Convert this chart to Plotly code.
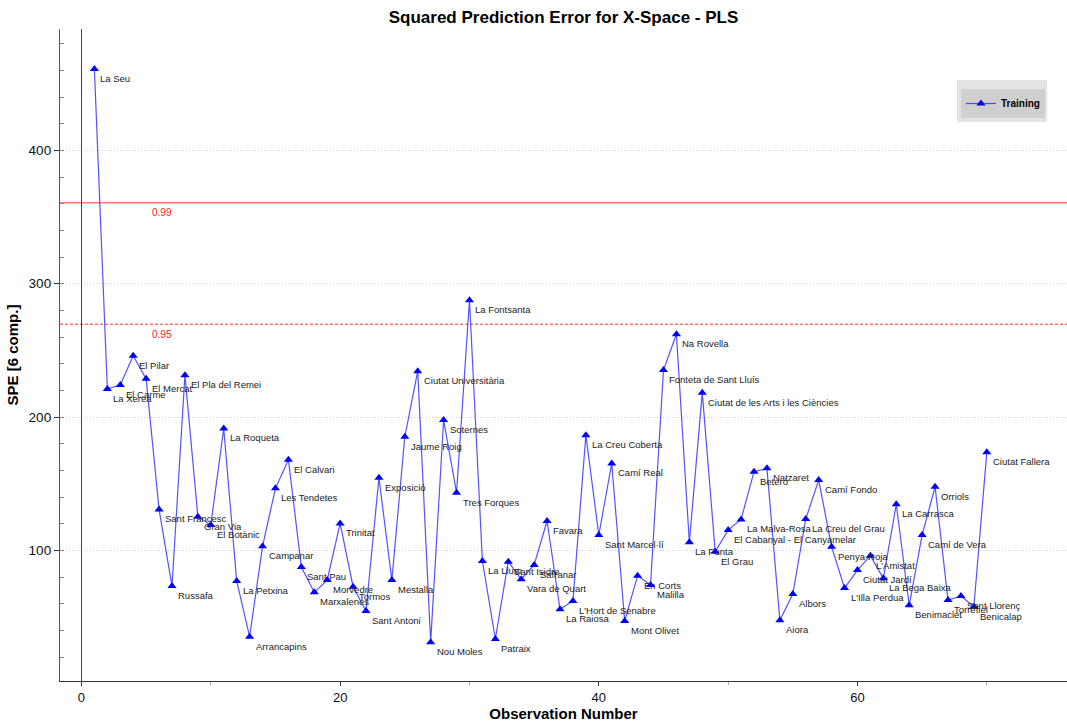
import plotly.graph_objects as go

# Observation names (neighbourhoods), in observation order 1..70
names = [
    "La Seu", "La Xerea", "El Carme", "El Pilar", "El Mercat", "Sant Francesc",
    "Russafa", "El Pla del Remei", "Gran Via", "El Botànic", "La Roqueta",
    "La Petxina", "Arrancapins", "Campanar", "Les Tendetes", "El Calvari",
    "Sant Pau", "Marxalenes", "Morvedre", "Trinitat", "Tormos", "Sant Antoni",
    "Exposició", "Mestalla", "Jaume Roig", "Ciutat Universitària", "Nou Moles",
    "Soternes", "Tres Forques", "La Fontsanta", "La Llum", "Patraix",
    "Sant Isidre", "Vara de Quart", "Safranar", "Favara", "La Raiosa",
    "L'Hort de Senabre", "La Creu Coberta", "Sant Marcel·lí", "Camí Real",
    "Mont Olivet", "En Corts", "Malilla", "Fonteta de Sant Lluís", "Na Rovella",
    "La Punta", "Ciutat de les Arts i les Ciències", "El Grau",
    "El Cabanyal - El Canyamelar", "La Malva-Rosa", "Beteró", "Natzaret",
    "Aiora", "Albors", "La Creu del Grau", "Camí Fondo", "Penya-Roja",
    "L'Illa Perdua", "Ciutat Jardí", "L'Amistat", "La Bega Baixa",
    "La Carrasca", "Benimaclet", "Camí de Vera", "Orriols", "Torrefiel",
    "Sant Llorenç", "Benicalap", "Ciutat Fallera",
]

obs_number = list(range(1, len(names) + 1))

# Squared prediction error per observation (6 components)
spe = [
    461, 221, 224, 246, 228.6, 130.7, 73.2, 231.4, 125.2, 119,
    191.4, 77, 35.2, 103, 146.5, 168, 87.5, 68.5, 77.7, 120.2,
    72.7, 54.5, 154.4, 77.7, 185.2, 234.4, 31, 197.7, 143.2, 287.6,
    92, 33.5, 91.5, 78.3, 89, 122, 55.8, 62, 186.4, 111.5,
    165.2, 47, 81, 74, 235.2, 262.1, 106, 218.1, 99, 115.2,
    123.2, 159, 161.5, 47.5, 67.2, 123.5, 152.7, 102.7, 71.7, 85.2,
    96, 79, 134.5, 58.8, 111.5, 147.7, 62.7, 65.7, 57.7, 173.5,
]

# Confidence limits
limit_levels = ["0.99", "0.95"]
limit_values = [360.6, 269.6]
limit_dash = ["solid", "3px,2px"]

W, H = 1067, 726
ML, MR, MT, MB = 60, 0, 29, 45

fig = go.Figure()

fig.add_trace(go.Scatter(
    x=obs_number, y=spe,
    mode="lines+markers",
    name="<b>Training</b>",
    line=dict(color="rgba(40,40,255,0.8)", width=1.2),
    marker=dict(symbol="triangle-up", size=8, color="#0000ff"),
    hoverinfo="x+y+text", text=names,
))

shapes = []
annotations = []

# Confidence limit lines across the whole plot width
for lvl, val, dash in zip(limit_levels, limit_values, limit_dash):
    shapes.append(dict(
        type="line", xref="paper", yref="y", x0=0, x1=1, y0=val, y1=val,
        line=dict(color="#ff3030", width=1, dash=dash), layer="below",
    ))
    annotations.append(dict(
        x=5.3, y=val, xref="x", yref="y", text=lvl, showarrow=False,
        xanchor="left", yanchor="middle", yshift=-10,
        font=dict(family="Liberation Sans", size=10, color="#ff2020"),
    ))

# Observation name labels, placed below-right of each marker
for xi, yi, nm in zip(obs_number, spe, names):
    annotations.append(dict(
        x=xi, y=yi, xref="x", yref="y", text=nm, showarrow=False,
        xanchor="left", yanchor="middle", xshift=4, yshift=-9.5,
        font=dict(family="Liberation Sans", size=9.5, color="#222222"),
    ))

# Outer legend panel
pw, ph = W - ML - MR, H - MT - MB
def px(xp):
    return (xp - ML) / pw
def py(yp):
    return (H - MB - yp) / ph

shapes.append(dict(
    type="rect", xref="paper", yref="paper",
    x0=px(957), x1=px(1047), y0=py(122), y1=py(80),
    fillcolor="#e3e3e3", line=dict(width=0), layer="above",
))

fig.update_layout(
    width=W, height=H,
    margin=dict(l=ML, r=MR, t=MT, b=MB),
    paper_bgcolor="white", plot_bgcolor="white",
    title=dict(
        text="<b>Squared Prediction Error for X-Space - PLS</b>",
        x=0.5, xref="paper", y=1 - 17 / H, yref="container",
        xanchor="center", yanchor="middle",
        font=dict(family="Liberation Sans", size=17, color="#000000"),
    ),
    showlegend=True,
    legend=dict(
        x=px(961), y=py(89), xanchor="left", yanchor="top",
        bgcolor="#cfcfcf", borderwidth=0, itemwidth=30,
        font=dict(family="Liberation Sans", size=10, color="#000000"),
        tracegroupgap=0,
    ),
    shapes=shapes,
    annotations=annotations,
    xaxis=dict(
        range=[-1.66, 76.2], tick0=0, dtick=20,
        showgrid=False,
        zeroline=True, zerolinecolor="#444444", zerolinewidth=1.3,
        showline=True, linecolor="#333333", linewidth=1.3,
        ticks="outside", ticklen=4, tickcolor="#333333",
        minor=dict(dtick=10, ticks="outside", ticklen=3, tickcolor="#aaaaaa"),
        tickfont=dict(family="Liberation Sans", size=13, color="#111111"),
        title=dict(text="<b>Observation Number</b>", standoff=4,
                   font=dict(family="Liberation Sans", size=15, color="#000000")),
    ),
    yaxis=dict(
        range=[2, 491], tick0=0, dtick=100,
        showgrid=True, gridcolor="#cfcfcf", griddash="1px,2px", gridwidth=1,
        zeroline=False,
        showline=True, linecolor="#555555", linewidth=1.3,
        ticks="outside", ticklen=5, tickcolor="#333333",
        minor=dict(dtick=20, ticks="inside", ticklen=4, tickcolor="#888888",
                   showgrid=False),
        tickfont=dict(family="Liberation Sans", size=13.5, color="#111111"),
        title=dict(text="<b>SPE [6 comp.]</b>", standoff=6,
                   font=dict(family="Liberation Sans", size=15, color="#000000")),
    ),
)

fig.write_html("out.html")
